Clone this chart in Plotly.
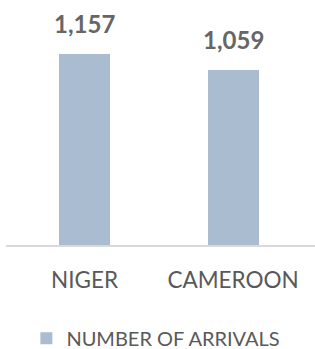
import plotly.graph_objects as go

categories = ["NIGER", "CAMEROON"]
arrivals = [1157, 1059]
series_name = "NUMBER OF ARRIVALS"
value_labels = ["1,157", "1,059"]

bar_color = "#AABCCF"
text_color = "#595959"

fig = go.Figure()
fig.add_trace(go.Bar(
    x=categories, y=arrivals, name=series_name,
    marker=dict(color=bar_color, line=dict(width=0)),
    width=0.343, showlegend=True,
))

for c, v, t in zip(categories, arrivals, value_labels):
    fig.add_annotation(x=c, y=v, text="<b>%s</b>" % t, showarrow=False,
                       yanchor="bottom", yshift=14,
                       font=dict(family="Lato", size=24, color="#666666"))

fig.update_layout(
    width=315, height=349,
    margin=dict(l=6, r=0, t=10, b=104, autoexpand=False),
    paper_bgcolor="white", plot_bgcolor="white",
    bargap=0,
    font=dict(family="Lato", color=text_color),
    xaxis=dict(
        range=[-0.529, 1.552], automargin=False,
        showline=True, linecolor="#D9D9D9", linewidth=2,
        showgrid=False, ticks="",
        tickfont=dict(family="Lato", size=22.5, color=text_color),
        ticklabelstandoff=14,
    ),
    yaxis=dict(range=[0, 1424], visible=False),
    legend=dict(orientation="h", x=0.066, xanchor="left", y=-0.314, yanchor="top",
                font=dict(family="Lato", size=20, color=text_color)),
)

fig.write_html("out.html", config={"displayModeBar": False},
               post_script="document.body.style.margin='0';document.body.style.overflow='hidden';")
